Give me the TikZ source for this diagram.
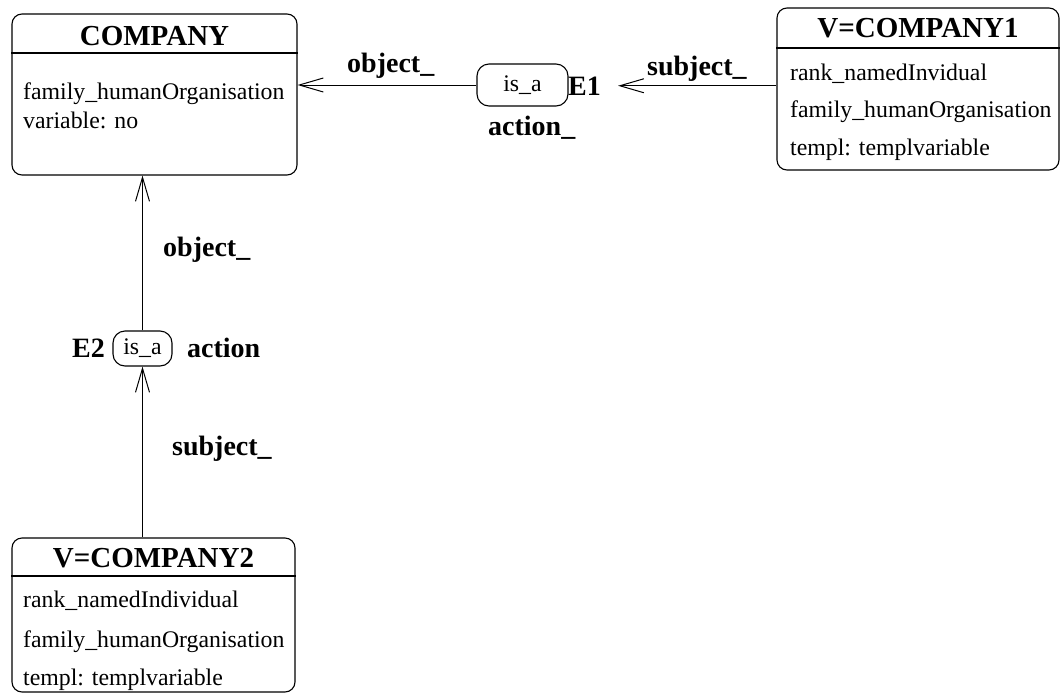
\documentclass[tikz,border=0pt]{standalone}
\usepackage{fontspec}
\setmainfont{Liberation Serif}
\usetikzlibrary{arrows.meta}
\begin{document}
\begin{tikzpicture}[x=1pt,y=-1pt,
  box/.style={draw, rounded corners=10pt, line width=1.1pt, inner sep=0pt},
  divider/.style={line width=1.1pt},
  title/.style={font=\fontsize{29}{31}\selectfont\bfseries, anchor=base, inner sep=0pt},
  attr/.style={font=\fontsize{23.8}{26}\selectfont, anchor=base west, inner sep=0pt},
  lab/.style={font=\fontsize{28}{30}\selectfont\bfseries, anchor=base west, inner sep=0pt},
  isa/.style={draw, rounded corners=12pt, line width=1.1pt, inner sep=0pt, font=\fontsize{23.8}{26}\selectfont},
  arr/.style={line width=1pt, -{Straight Barb[length=24pt,width=14pt]}}]
\useasboundingbox (0,0) rectangle (1061,694);

% COMPANY
\node[box, minimum width=285pt, minimum height=161pt] (company) at (154.5,94.5) {};
\draw[divider] (company.west |- 0,53) -- (company.east |- 0,53);
\node[title] (companyT) at (154.5,45) {COMPANY};
\node[attr] (companyA1) at (23,99) {family\_humanOrganisation};
\node[attr] (companyA2) at (23,128) {variable: no};

% V=COMPANY1
\node[box, minimum width=282pt, minimum height=162pt] (v1) at (918,89) {};
\draw[divider] (v1.west |- 0,48) -- (v1.east |- 0,48);
\node[title] (v1T) at (918,37) {V=COMPANY1};
\node[attr] (v1A1) at (790,80) {rank\_namedInvidual};
\node[attr] (v1A2) at (790,117) {family\_humanOrganisation};
\node[attr] (v1A3) at (790,155) {templ: templvariable};

% V=COMPANY2
\node[box, minimum width=283pt, minimum height=154pt] (v2) at (153.5,615) {};
\draw[divider] (v2.west |- 0,576) -- (v2.east |- 0,576);
\node[title] (v2T) at (153.5,567) {V=COMPANY2};
\node[attr] (v2A1) at (23,607) {rank\_namedIndividual};
\node[attr] (v2A2) at (23,647) {family\_humanOrganisation};
\node[attr] (v2A3) at (23,685) {templ: templvariable};

% E1
\node[isa, minimum width=91pt, minimum height=42pt] (e1) at (522.5,85) {is\_a};
\node[lab] (e1lab) at (568,95) {E1};
\node[lab] (e1act) at (488,135) {action\_};
\node[lab] (e1obj) at (347,72) {object\_};
\node[lab] (e1sub) at (647,75) {subject\_};

% E2
\node[isa, minimum width=59pt, minimum height=35pt] (e2) at (142.5,348.5) {is\_a};
\node[lab] (e2lab) at (72,357) {E2};
\node[lab] (e2act) at (187,357) {action};
\node[lab] (e2obj) at (163,256) {object\_};
\node[lab] (e2sub) at (172,455) {subject\_};

% connectors
\draw[arr] (e1.west) -- (e1.west -| company.east);
\draw[arr] (e1lab.east -| v1.west) -- ([xshift=17pt]e1lab.east);
\draw[arr] (e2.north) -- (e2.north |- company.south);
\draw[arr] (e2.south |- v2.north) -- (e2.south);
\end{tikzpicture}
\end{document}
